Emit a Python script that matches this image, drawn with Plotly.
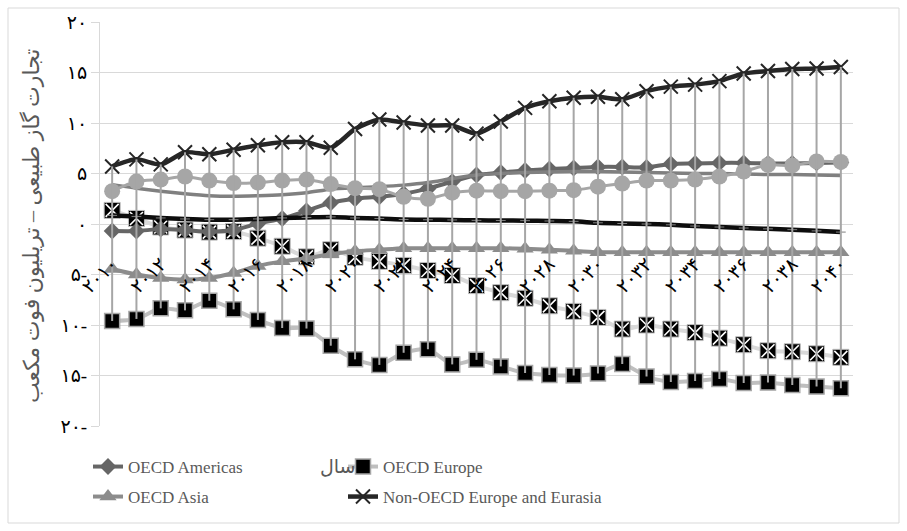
import plotly.graph_objects as go

# --- data -----------------------------------------------------------------
years = list(range(2010, 2041))

oecd_americas = [-0.7, -0.7, -0.5, -0.6, -0.75, -0.6, 0.05, 0.55, 1.3, 2.1, 2.5, 2.7, 3.0, 3.5,
                 4.2, 4.85, 5.1, 5.3, 5.45, 5.55, 5.65, 5.65, 5.6, 5.95, 6.0, 6.05, 6.05, 6.0,
                 6.0, 6.05, 6.1]
oecd_europe = [-9.6, -9.4, -8.35, -8.55, -7.6, -8.45, -9.5, -10.3, -10.35, -12.05, -13.4, -13.95,
               -12.75, -12.4, -13.9, -13.45, -14.1, -14.75, -14.95, -15.0, -14.8, -13.85, -15.1,
               -15.65, -15.55, -15.35, -15.75, -15.7, -15.95, -16.1, -16.25]
oecd_asia = [-4.45, -5.0, -5.35, -5.5, -5.35, -4.85, -4.15, -3.7, -3.4, -3.0, -2.7, -2.55, -2.4,
             -2.4, -2.4, -2.4, -2.4, -2.45, -2.55, -2.65, -2.8, -2.8, -2.8, -2.8, -2.8, -2.8,
             -2.8, -2.8, -2.8, -2.8, -2.8]
non_oecd_eurasia = [5.7, 6.4, 5.9, 7.1, 6.9, 7.35, 7.8, 8.1, 8.1, 7.55, 9.4, 10.35, 10.05, 9.75,
                    9.75, 8.95, 10.15, 11.5, 12.15, 12.5, 12.6, 12.35, 13.15, 13.6, 13.8, 14.15,
                    14.9, 15.15, 15.35, 15.4, 15.55]
series_circles = [3.25, 4.2, 4.4, 4.7, 4.3, 4.05, 4.1, 4.3, 4.4, 3.95, 3.55, 3.45, 2.7, 2.5, 3.1,
                  3.3, 3.25, 3.25, 3.3, 3.35, 3.7, 4.0, 4.3, 4.3, 4.4, 4.7, 5.2, 5.85, 5.8, 6.2,
                  6.15]
series_gray = [3.9, 3.55, 3.25, 3.0, 2.8, 2.75, 2.8, 2.9, 3.1, 3.45, 3.6, 3.7, 3.85, 4.1, 4.5,
               4.85, 5.0, 5.1, 5.15, 5.2, 5.2, 5.15, 5.1, 5.05, 5.0, 5.0, 4.95, 4.9, 4.9, 4.85,
               4.8]
series_black = [0.85, 0.75, 0.6, 0.5, 0.43, 0.43, 0.5, 0.6, 0.65, 0.7, 0.6, 0.55, 0.45, 0.42,
                0.4, 0.36, 0.35, 0.33, 0.3, 0.26, 0.12, 0.05, 0.0, -0.08, -0.2, -0.3, -0.4,
                -0.48, -0.56, -0.68, -0.8]
series_hatched = [1.35, 0.55, -0.3, -0.6, -0.8, -0.75, -1.4, -2.2, -3.25, -2.55, -3.3, -3.7,
                  -4.1, -4.6, -5.1, -6.1, -6.8, -7.35, -8.1, -8.65, -9.25, -10.4, -10.0, -10.4,
                  -10.75, -11.3, -11.95, -12.55, -12.65, -12.85, -13.2]

y_ticks = [-20, -15, -10, -5, 0, 5, 10, 15, 20]
y_tick_text = ["۲۰-", "۱۵-", "۱۰-", "۵-", "۰", "۵", "۱۰", "۱۵", "۲۰"]
x_tick_years = years[::2]

PERSIAN = str.maketrans("0123456789", "۰۱۲۳۴۵۶۷۸۹")
x_tick_text = [str(y).translate(PERSIAN) for y in x_tick_years]

y_title = "تجارت گاز طبیعی – تریلیون فوت مکعب"
x_title = "سال"

# --- geometry of the plotting area (pixels) -----------------------------
W, H = 907, 531
L, R, T, B = 100, 54, 22, 105
PW, PH = W - L - R, H - T - B


def px_x(p):
    return (p - L) / PW


def px_y(p):
    return (H - B - p) / PH


FONT = "'Liberation Serif', 'Times New Roman', 'DejaVu Sans', serif"
SMOOTH = dict(shape="spline", smoothing=0.7)

fig = go.Figure()

# hatched-square series: black square with a white cross on top
fig.add_trace(go.Scatter(
    x=years, y=series_hatched, mode="lines+markers", showlegend=False,
    line=dict(color="#d9d9d9", width=4, **SMOOTH),
    marker=dict(symbol="square", size=16, color="black", line=dict(color="#bfbfbf", width=1)),
))
fig.add_trace(go.Scatter(
    x=years, y=series_hatched, mode="markers", showlegend=False,
    marker=dict(symbol="x-thin", size=13, line=dict(color="white", width=1.6)),
))

fig.add_trace(go.Scatter(
    x=years, y=oecd_europe, mode="lines+markers", name="OECD Europe", legend="legend2",
    line=dict(color="#bfbfbf", width=4, **SMOOTH),
    marker=dict(symbol="square", size=15, color="black", line=dict(color="#a6a6a6", width=1.5)),
))
fig.add_trace(go.Scatter(
    x=years, y=oecd_americas, mode="lines+markers", name="OECD Americas", legend="legend",
    line=dict(color="#666666", width=4, **SMOOTH),
    marker=dict(symbol="diamond", size=13, color="#666666"),
))
fig.add_trace(go.Scatter(
    x=years, y=oecd_asia, mode="lines+markers", name="OECD Asia", legend="legend3",
    line=dict(color="#8c8c8c", width=4, **SMOOTH),
    marker=dict(symbol="triangle-up", size=15, color="#8c8c8c"),
))
fig.add_trace(go.Scatter(
    x=years, y=series_gray, mode="lines", showlegend=False,
    line=dict(color="#808080", width=3.5, **SMOOTH),
))
fig.add_trace(go.Scatter(
    x=years, y=series_circles, mode="lines+markers", showlegend=False,
    line=dict(color="#a6a6a6", width=3, **SMOOTH),
    marker=dict(symbol="circle", size=16, color="#a6a6a6"),
))
fig.add_trace(go.Scatter(
    x=years, y=series_black, mode="lines+markers", showlegend=False,
    line=dict(color="#0d0d0d", width=4.5, **SMOOTH),
    marker=dict(symbol="line-ew", size=7, line=dict(color="#7f7f7f", width=1)),
))
fig.add_trace(go.Scatter(
    x=years, y=non_oecd_eurasia, mode="lines+markers", name="Non-OECD Europe and Eurasia",
    legend="legend4",
    line=dict(color="#262626", width=4.5, **SMOOTH),
    marker=dict(symbol="x-thin", size=14, line=dict(color="#262626", width=2)),
))

# high-low lines spanning all series at each year
all_series = [oecd_americas, oecd_europe, oecd_asia, non_oecd_eurasia,
              series_circles, series_gray, series_black, series_hatched]
hl_x, hl_y = [], []
for i, yr in enumerate(years):
    vals = [s[i] for s in all_series]
    hl_x += [yr, yr, None]
    hl_y += [max(vals), min(vals), None]
fig.add_trace(go.Scatter(
    x=hl_x, y=hl_y, mode="lines", showlegend=False, hoverinfo="skip",
    line=dict(color="#a6a6a6", width=2),
))

legend_common = dict(
    orientation="v", xanchor="left", yanchor="middle", bgcolor="rgba(0,0,0,0)",
    font=dict(family=FONT, size=17, color="#595959"), itemclick=False,
)
fig.update_layout(
    width=W, height=H,
    margin=dict(l=L, r=R, t=T, b=B),
    paper_bgcolor="white", plot_bgcolor="white",
    legend=dict(x=px_x(88), y=px_y(467), **legend_common),
    legend2=dict(x=px_x(343), y=px_y(467), **legend_common),
    legend3=dict(x=px_x(88), y=px_y(497), **legend_common),
    legend4=dict(x=px_x(343), y=px_y(497), **legend_common),
    xaxis=dict(
        range=[2009.5, 2040.5], tickmode="array", tickvals=x_tick_years, ticktext=x_tick_text,
        tickangle=-45, showgrid=False, zeroline=False, showline=False, ticks="",
        anchor="free", position=(20 - 2.4) / 40,
        tickfont=dict(family=FONT, size=19, color="#000000"),
    ),
    yaxis=dict(
        range=[-20, 20], tickmode="array", tickvals=y_ticks, ticktext=y_tick_text,
        showgrid=True, gridcolor="#d9d9d9", gridwidth=1, zeroline=False,
        showline=True, linecolor="#d9d9d9", linewidth=1,
        ticks="outside", ticklen=8, tickcolor="#d9d9d9",
        tickfont=dict(family=FONT, size=19, color="#000000"),
    ),
    annotations=[
        dict(text=y_title, textangle=-90, x=px_x(31), y=px_y(226), xref="paper", yref="paper",
             showarrow=False, xanchor="center", yanchor="middle",
             font=dict(family=FONT, size=22, color="#595959")),
        dict(text=x_title, x=px_x(338), y=px_y(466), xref="paper", yref="paper",
             showarrow=False, xanchor="center", yanchor="middle",
             font=dict(family=FONT, size=19, color="#595959")),
    ],
    shapes=[
        dict(type="rect", xref="paper", yref="paper", layer="below",
             x0=px_x(8), x1=px_x(899), y0=px_y(523), y1=px_y(8),
             line=dict(color="#d9d9d9", width=1), fillcolor="rgba(0,0,0,0)"),
    ],
)

fig.write_html("out.html")
